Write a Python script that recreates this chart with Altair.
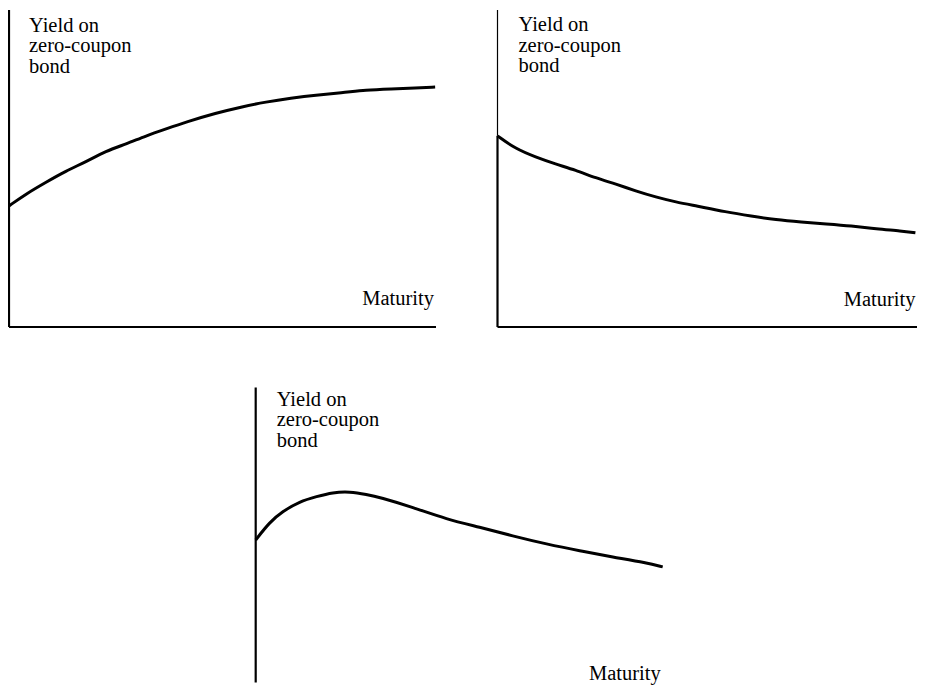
import altair as alt
import pandas as pd

# --- Data (maturity 0-10, yield in arbitrary units 0-10) ---
# Panel 1: upward-sloping term structure
up_maturity = [0, 0.40, 0.87, 1.33, 1.80, 2.27, 2.74, 3.21, 3.68, 4.15,
               4.85, 5.43, 6.02, 6.60, 7.19, 7.78, 8.36, 8.95, 9.53, 9.98]
up_yield = [3.82, 4.20, 4.57, 4.92, 5.21, 5.55, 5.77, 6.03, 6.25, 6.47,
            6.75, 6.94, 7.10, 7.22, 7.32, 7.38, 7.48, 7.51, 7.54, 7.57]

# Panel 2: downward-sloping term structure
down_maturity = [0, 0.43, 0.91, 1.38, 1.86, 2.34, 2.82, 3.29, 3.77, 4.25,
                 4.73, 5.44, 6.04, 6.63, 7.23, 7.83, 8.42, 9.02, 9.62, 9.95]
down_yield = [6.03, 5.62, 5.36, 5.14, 4.95, 4.70, 4.51, 4.29, 4.10, 3.94,
              3.82, 3.63, 3.50, 3.38, 3.31, 3.25, 3.19, 3.09, 3.03, 2.97]

# Panel 3: humped term structure
hump_maturity = [0, 0.34, 0.66, 1.08, 1.50, 1.89, 2.31, 2.73, 3.05, 3.86,
                 4.69, 5.50, 6.31, 7.15, 7.96, 8.77, 9.61, 10.0]
hump_yield = [4.78, 5.39, 5.76, 6.10, 6.27, 6.41, 6.44, 6.34, 6.24, 5.90,
              5.49, 5.22, 4.92, 4.64, 4.41, 4.20, 4.00, 3.86]

y_title = ["Yield on", "zero-coupon", "bond"]
x_title = "Maturity"

# axis extents (data units)
maturity_range = [0, 10]
yield_range = [0, 10]

SERIF = "Liberation Serif"
FS = 20.5


def panel(mat, yld, w, h, ytitle_x, ytitle_y, xtitle_y,
          x_axis=True, y_bottom=0.0, thin_above=None):
    xs = alt.Scale(domain=maturity_range, nice=False, zero=False)
    ys = alt.Scale(domain=yield_range, nice=False, zero=False)

    curve = (
        alt.Chart(pd.DataFrame({"maturity": mat, "yield": yld}))
        .mark_line(color="black", strokeWidth=3, interpolate="basis")
        .encode(
            x=alt.X("maturity:Q", scale=xs, axis=None),
            y=alt.Y("yield:Q", scale=ys, axis=None),
        )
    )

    layers = []
    top = yield_range[1] if thin_above is None else thin_above
    vdf = pd.DataFrame({"maturity": [maturity_range[0]], "yield": [y_bottom], "yield2": [top]})
    layers.append(
        alt.Chart(vdf).mark_rule(color="black", strokeWidth=2.2).encode(
            x=alt.X("maturity:Q", scale=xs, axis=None),
            y=alt.Y("yield:Q", scale=ys, axis=None),
            y2="yield2:Q",
        )
    )
    if thin_above is not None:
        tdf = pd.DataFrame({"maturity": [maturity_range[0]], "yield": [thin_above],
                            "yield2": [yield_range[1]]})
        layers.append(
            alt.Chart(tdf).mark_rule(color="black", strokeWidth=1.2).encode(
                x=alt.X("maturity:Q", scale=xs, axis=None),
                y=alt.Y("yield:Q", scale=ys, axis=None),
                y2="yield2:Q",
            )
        )
    if x_axis:
        hdf = pd.DataFrame({"maturity": [maturity_range[0]], "maturity2": [maturity_range[1]],
                            "yield": [yield_range[0]]})
        layers.append(
            alt.Chart(hdf).mark_rule(color="black", strokeWidth=2.2).encode(
                x=alt.X("maturity:Q", scale=xs, axis=None),
                x2="maturity2:Q",
                y=alt.Y("yield:Q", scale=ys, axis=None),
            )
        )

    ylab = alt.Chart(pd.DataFrame({"label": ["\n".join(y_title)]})).mark_text(
        align="left", baseline="alphabetic", font=SERIF, fontSize=FS,
        lineHeight=20.7, lineBreak="\n", color="black",
    ).encode(x=alt.value(ytitle_x), y=alt.value(ytitle_y), text="label:N")

    xlab = alt.Chart(pd.DataFrame({"label": [x_title]})).mark_text(
        align="right", baseline="alphabetic", font=SERIF, fontSize=FS,
        color="black",
    ).encode(x=alt.value(w - 2), y=alt.value(h + xtitle_y), text="label:N")

    return alt.layer(*layers, curve, ylab, xlab).properties(width=w, height=h)


p1 = panel(up_maturity, up_yield, 427, 317, 20, 21.5, -22)
p2 = panel(down_maturity, down_yield, 420, 317, 21, 21, -21,
           thin_above=down_yield[0])
p3 = panel(hump_maturity, hump_yield, 407, 292, 21, 18, 0,
           x_axis=False, y_bottom=-0.1)

spacer = (
    alt.Chart(pd.DataFrame({"v": [0]}))
    .mark_rule(opacity=0)
    .encode(x=alt.value(0), x2=alt.value(200), y=alt.value(0))
    .properties(width=200, height=10)
)

row1 = alt.hconcat(p1, p2, spacing=49.5)
row2 = alt.hconcat(spacer, p3, spacing=40.7)

chart = (
    alt.vconcat(row1, row2, spacing=56.6)
    .properties(padding={"left": -5, "top": 0, "right": -5, "bottom": 0})
    .configure_view(stroke=None)
)

chart.save("out.html", embed_options={"renderer": "svg", "actions": False})
